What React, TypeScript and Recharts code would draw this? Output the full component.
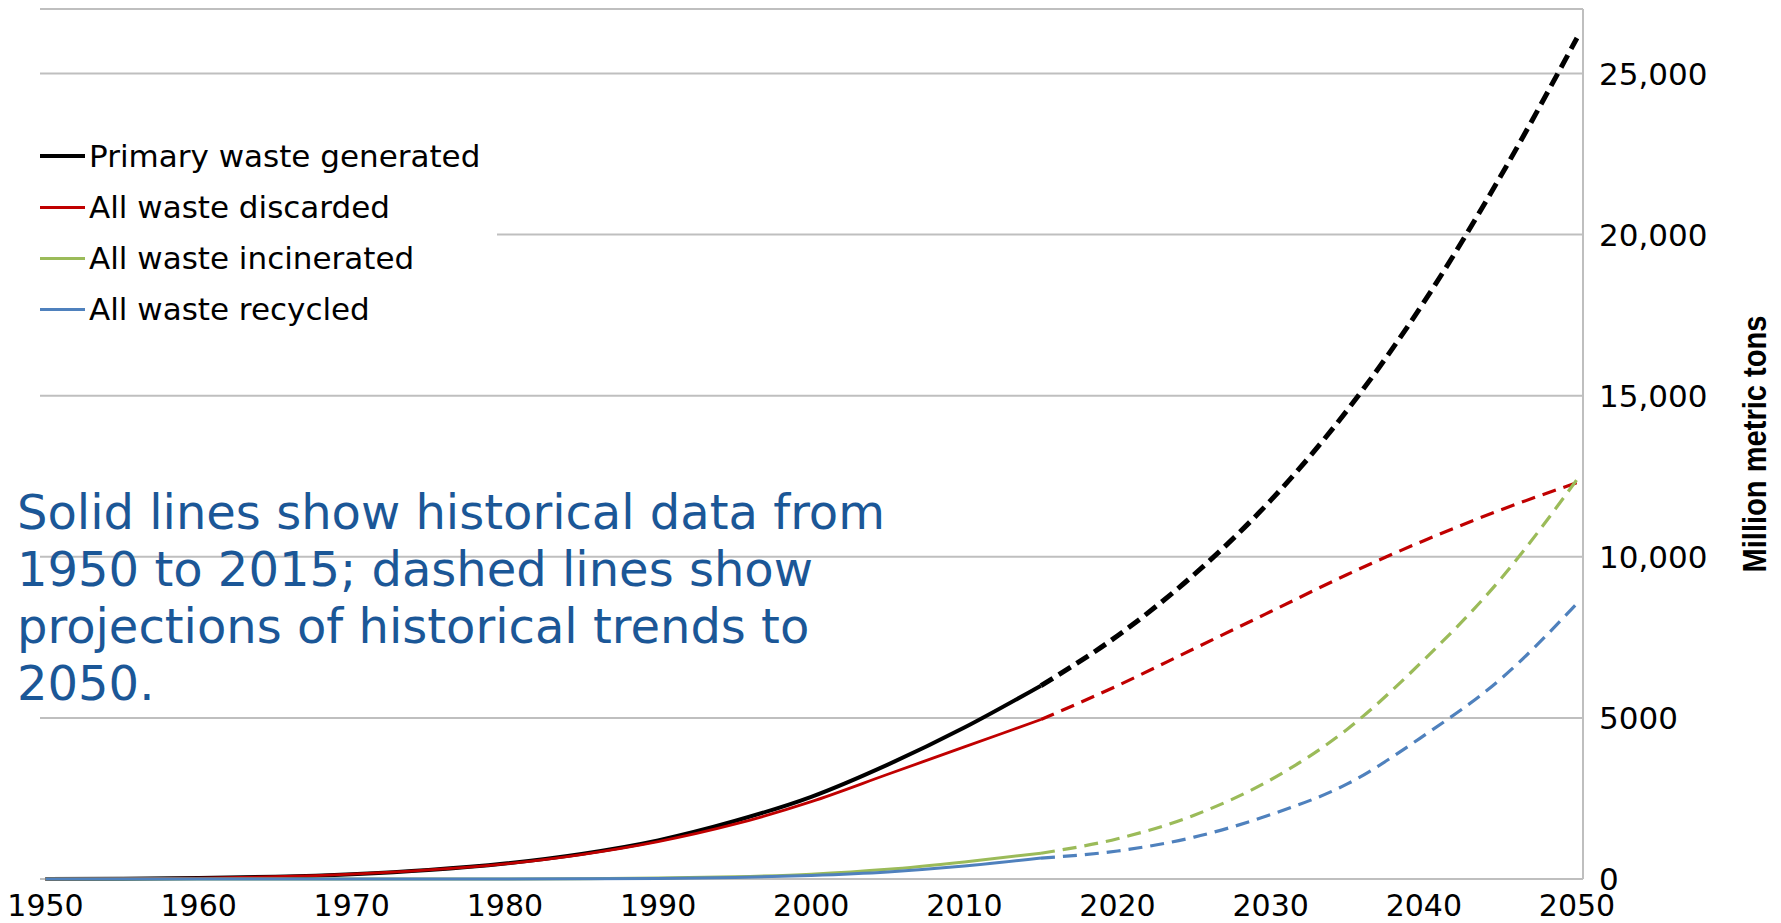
import React from 'react';
import { LineChart, Line, XAxis, YAxis, CartesianGrid, Legend } from 'recharts';

// ---- data (million metric tons, cumulative) ----
const years = [1950, 1955, 1960, 1965, 1970, 1975, 1980, 1985, 1990, 1995, 2000, 2005, 2010, 2015, 2020, 2025, 2030, 2035, 2040, 2045, 2050];
const primaryWaste = [0, 10, 30, 70, 150, 280, 480, 780, 1200, 1800, 2550, 3550, 4700, 6000, 7550, 9450, 11750, 14550, 17900, 21800, 26100];
const discarded = [0, 10, 30, 70, 150, 280, 470, 760, 1160, 1700, 2400, 3250, 4100, 4950, 6000, 7150, 8300, 9450, 10500, 11450, 12300];
const incinerated = [0, 0, 0, 0, 0, 1, 3, 10, 30, 70, 150, 300, 530, 800, 1250, 1980, 3080, 4650, 6800, 9300, 12400];
const recycled = [0, 0, 0, 0, 0, 0, 1, 5, 15, 45, 110, 220, 400, 650, 870, 1300, 2000, 2950, 4450, 6200, 8550];
const lastHistoricalYear = 2015;

const xTicks = [1950, 1960, 1970, 1980, 1990, 2000, 2010, 2020, 2030, 2040, 2050];
const yTicks = [0, 5000, 10000, 15000, 20000, 25000];
const yTickLabels = ['0', '5000', '10,000', '15,000', '20,000', '25,000'];
const yAxisTitle = 'Million metric tons';
const noteLines = [
  'Solid lines show historical data from',
  '1950 to 2015; dashed lines show',
  'projections of historical trends to',
  '2050.',
];

const seriesInfo = [
  { key: 'primary', name: 'Primary waste generated', color: '#000000', values: primaryWaste, width: 4, projWidth: 5, dash: '14 7', legendW: 4 },
  { key: 'discarded', name: 'All waste discarded', color: '#C00000', values: discarded, width: 2.8, projWidth: 3.2, dash: '14 8', legendW: 3 },
  { key: 'incinerated', name: 'All waste incinerated', color: '#9BBB59', values: incinerated, width: 3, projWidth: 3.2, dash: '14 8', legendW: 3 },
  { key: 'recycled', name: 'All waste recycled', color: '#4F81BD', values: recycled, width: 3, projWidth: 3.2, dash: '14 8', legendW: 3 },
];

const data = years.map((year, i) => {
  const row: any = { year };
  seriesInfo.forEach((s) => {
    row[s.key + 'Hist'] = year <= lastHistoricalYear ? s.values[i] : null;
    row[s.key + 'Proj'] = year >= lastHistoricalYear ? s.values[i] : null;
  });
  return row;
});

const XTick = (props: any) => {
  const { x, y, payload } = props;
  return (
    <text x={x} y={y} dy={37} textAnchor="middle" fontFamily="'DejaVu Sans', Verdana, sans-serif" fontSize={30} fill="#000">
      {payload.value}
    </text>
  );
};

const YTick = (props: any) => {
  const { x, y, payload } = props;
  const idx = yTicks.indexOf(payload.value);
  return (
    <text x={x + 16} y={y} dy="0.36em" textAnchor="start" fontFamily="'DejaVu Sans', Verdana, sans-serif" fontSize={31} fill="#000">
      {idx >= 0 ? yTickLabels[idx] : payload.value}
    </text>
  );
};

const YTitle = (props: any) => {
  const vb = props.viewBox || {};
  const cx = vb.x + 171;
  const cy = vb.y + vb.height / 2;
  return (
    <text
      x={cx}
      y={cy}
      transform={`rotate(-90, ${cx}, ${cy})`}
      textAnchor="middle"
      dominantBaseline="central"
      fontFamily="'Liberation Sans Narrow', 'Liberation Sans', Arial, sans-serif"
      fontWeight="bold"
      fontSize={34}
      textLength={257}
      lengthAdjust="spacingAndGlyphs"
      fill="#000"
    >
      {yAxisTitle}
    </text>
  );
};

const LegendContent = () => (
  <div style={{ background: '#fff', width: '100%', height: '100%', paddingTop: 15.5, boxSizing: 'border-box' }}>
    {seriesInfo.map((s) => (
      <div key={s.key} style={{ display: 'flex', alignItems: 'center', height: 51, paddingLeft: 40 }}>
        <span style={{ display: 'inline-block', width: 45, height: s.legendW, background: s.color, marginRight: 4 }} />
        <span style={{ fontFamily: "'DejaVu Sans', Verdana, sans-serif", fontSize: 31, lineHeight: 1, color: '#000', whiteSpace: 'nowrap' }}>
          {s.name}
        </span>
      </div>
    ))}
  </div>
);

export default function App() {
  return (
    <div style={{ position: 'relative', width: 1781, height: 923, background: '#fff', overflow: 'hidden' }}>
      <style>{'body{margin:0;background:#fff;}'}</style>
      <LineChart width={1781} height={923} data={data} margin={{ top: 9, right: 0, left: 40, bottom: 0 }}>
        <CartesianGrid vertical={false} stroke="#BFBFBF" strokeWidth={2} />
        <XAxis
          dataKey="year"
          type="number"
          domain={[1950, 2050]}
          ticks={xTicks}
          padding={{ left: 5.5, right: 6 }}
          axisLine={false}
          tickLine={false}
          tickSize={0}
          tickMargin={0}
          height={44}
          tick={<XTick />}
          interval={0}
        />
        <YAxis
          orientation="right"
          type="number"
          domain={[0, 27000]}
          ticks={yTicks}
          width={198}
          axisLine={{ stroke: '#BFBFBF', strokeWidth: 2 }}
          tickLine={false}
          tickSize={0}
          tickMargin={0}
          tick={<YTick />}
          interval={0}
          label={{ content: <YTitle /> }}
        />
        <Legend
          layout="horizontal"
          verticalAlign="middle"
          align="center"
          content={<LegendContent />}
          wrapperStyle={{ position: 'absolute', left: 0, top: 115, width: 497, height: 230 }}
        />
        {seriesInfo.map((s) => (
          <Line
            key={s.key + 'Hist'}
            type="monotone"
            dataKey={s.key + 'Hist'}
            name={s.name}
            stroke={s.color}
            strokeWidth={s.width}
            dot={false}
            activeDot={false}
            isAnimationActive={false}
            legendType="line"
          />
        ))}
        {seriesInfo.map((s) => (
          <Line
            key={s.key + 'Proj'}
            type="monotone"
            dataKey={s.key + 'Proj'}
            name={s.name + ' (projection)'}
            stroke={s.color}
            strokeWidth={s.projWidth}
            strokeDasharray={s.dash}
            dot={false}
            activeDot={false}
            isAnimationActive={false}
            legendType="none"
          />
        ))}
      </LineChart>
      <div
        style={{
          position: 'absolute',
          left: 17,
          top: 484,
          fontFamily: "'DejaVu Sans', Verdana, sans-serif",
          fontSize: 48,
          lineHeight: '57px',
          color: '#1B5797',
          whiteSpace: 'nowrap',
          pointerEvents: 'none',
        }}
      >
        {noteLines.map((l, i) => (
          <div key={i}>{l}</div>
        ))}
      </div>
    </div>
  );
}
